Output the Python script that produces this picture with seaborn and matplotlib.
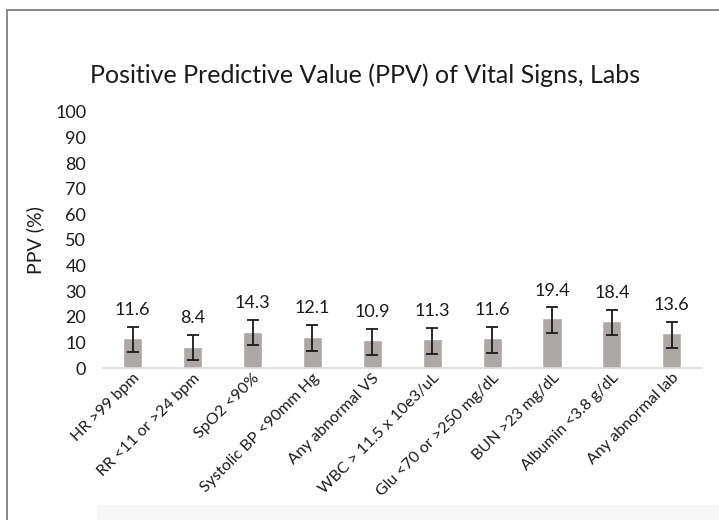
import matplotlib
matplotlib.use("Agg")
import matplotlib.pyplot as plt
import seaborn as sns
import pandas as pd
from matplotlib.lines import Line2D
from matplotlib.patches import Rectangle

# data
labels = ['HR >99 bpm', 'RR <11 or >24 bpm', 'SpO2 <90%', 'Systolic BP <90mm Hg',
          'Any abnormal VS', 'WBC > 11.5 x 10e3/uL', 'Glu <70 or >250 mg/dL',
          'BUN >23 mg/dL', 'Albumin <3.8 g/dL', 'Any abnormal lab']
ppv = [11.6, 8.4, 14.3, 12.1, 10.9, 11.3, 11.6, 19.4, 18.4, 13.6]
ci_low = [6.3, 3.1, 8.9, 6.6, 5.3, 5.7, 6.1, 13.9, 12.9, 7.9]
ci_high = [16.1, 13.0, 18.8, 16.9, 15.4, 15.7, 16.0, 23.7, 22.8, 18.1]

df = pd.DataFrame({'label': labels, 'ppv': ppv, 'lo': ci_low, 'hi': ci_high})

sns.set_theme(style="white")
plt.rcParams['font.family'] = ['Lato', 'DejaVu Sans']

fig = plt.figure(figsize=(7.19, 5.2), dpi=100)
ax = fig.add_axes([0.143, 0.292, 0.833, 0.493])

sns.barplot(data=df, x='label', y='ppv', color='#ADA7A6', width=0.32,
            saturation=1, errorbar=None, ax=ax)

# error bars (asymmetric)
xs = range(len(df))
ax.errorbar(xs, df['ppv'], yerr=[df['ppv'] - df['lo'], df['hi'] - df['ppv']],
            fmt='none', ecolor='#1a1a1a', elinewidth=1.3, capsize=4, capthick=1.3)

# value labels above the error bars
for i, row in df.iterrows():
    ax.text(i, row['hi'] + 6.5, f"{row['ppv']:.1f}", ha='center', va='center',
            fontsize=13, color='#1a1a1a')

ax.set_ylim(0, 100)
ax.set_xlim(-0.5, len(df) - 0.5)
ax.set_yticks(range(0, 101, 10))
ax.tick_params(axis='y', labelsize=13, length=0, pad=12, labelcolor='#1a1a1a')
ax.tick_params(axis='x', labelsize=11.5, length=0, pad=2, labelcolor='#1a1a1a')
plt.setp(ax.get_xticklabels(), rotation=45, ha='right', rotation_mode='anchor')
ax.set_xlabel('')
ax.set_ylabel('PPV (%)', fontsize=14, color='#1a1a1a', labelpad=8)
for s in ['top', 'right', 'left']:
    ax.spines[s].set_visible(False)
ax.spines['bottom'].set_color('#D9D9D9')
ax.spines['bottom'].set_linewidth(1.2)

fig.text(0.508, 0.855, 'Positive Predictive Value (PPV) of Vital Signs, Labs',
         ha='center', va='center', fontsize=18, color='#1a1a1a')

# slide frame and faint shadow
fig.add_artist(Line2D([0.010, 1.0], [0.981, 0.981], color='#7f7f7f', lw=1.3))
fig.add_artist(Line2D([0.010, 0.010], [0.0, 0.981], color='#7f7f7f', lw=1.3))
fig.add_artist(Rectangle((0.135, 0.0), 0.865, 0.028, facecolor='#F6F6F6',
                         edgecolor='none', zorder=-5))

fig.savefig('out.png', dpi=100)
